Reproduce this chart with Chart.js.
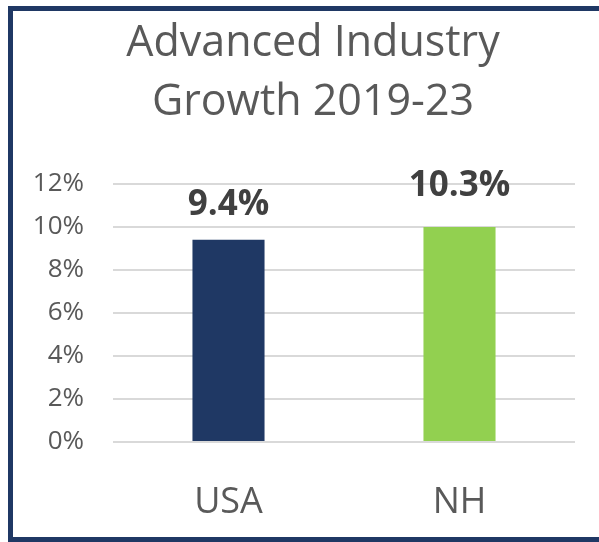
<!DOCTYPE html>
<html>
<head>
<meta charset="utf-8">
<script src="https://cdn.jsdelivr.net/npm/chart.js@4"></script>
<style>
  html, body { margin: 0; background: #fff; }
  #page { position: relative; width: 599px; height: 542px; overflow: hidden; }
  #frame {
    position: absolute; left: 8px; top: 6px; width: 700px; height: 536px;
    border: 5px solid #1f3864; box-sizing: border-box;
  }
  #box { position: absolute; left: 0; top: 0; width: 599px; height: 542px; }
</style>
</head>
<body>
<div id="page">
  <div id="frame"></div>
  <div id="box"><canvas id="chart-area"></canvas></div>
</div>
<script>
var categories = ["USA", "NH"];
var growth = [9.4, 10.0];          // bar heights as drawn
var labelValues = [9.4, 10.3];     // printed labels
var barColors = ["#1f3864", "#92d050"];
var yTicks = [0, 2, 4, 6, 8, 10, 12];

const FONT = "'Open Sans', sans-serif";

// bold value labels over the bars
const valueLabels = {
  id: "valueLabels",
  afterLayout(chart) {
    // let the % labels run left of the axis box (title stays centred)
    chart.scales.y.left = 0;
  },
  afterDatasetsDraw(chart) {
    const ctx = chart.ctx;
    const meta = chart.getDatasetMeta(0);
    const y = chart.scales.y;
    ctx.save();
    ctx.font = "bold 35px " + FONT;
    ctx.fillStyle = "#404040";
    ctx.textAlign = "center";
    ctx.textBaseline = "alphabetic";
    meta.data.forEach(function(bar, i) {
      ctx.fillText(labelValues[i].toFixed(1) + "%", bar.x, y.getPixelForValue(labelValues[i]) - 25);
    });
    ctx.restore();
  }
};

var config = {
  type: "bar",
  data: {
    labels: categories,
    datasets: [{
      data: growth,
      backgroundColor: barColors,
      barPercentage: 0.312,
      categoryPercentage: 1
    }]
  },
  options: {
    responsive: true,
    maintainAspectRatio: false,
    animation: false,
    layout: { padding: { top: 15, left: 51, right: 24, bottom: 0 } },
    plugins: {
      legend: { display: false },
      tooltip: { enabled: false },
      title: {
        display: true,
        text: ["Advanced Industry", "Growth 2019-23"],
        color: "#595959",
        font: { family: FONT, size: 43, weight: "normal", lineHeight: 1.36 },
        padding: { top: 0, bottom: 52 }
      }
    },
    scales: {
      x: {
        afterFit: function(scale) { scale.height = 100; },
        grid: { display: false },
        border: { display: false },
        ticks: { color: "#595959", font: { family: FONT, size: 36 }, padding: 31 }
      },
      y: {
        min: 0,
        max: 12,
        afterFit: function(scale) { scale.width = 62; },
        afterBuildTicks: function(scale) {
          scale.ticks = yTicks.map(function(v) { return { value: v }; });
        },
        grid: { color: "#d9d9d9", lineWidth: 2, drawTicks: false },
        border: { display: false },
        ticks: {
          color: "#595959",
          font: { family: FONT, size: 26 },
          padding: 29,
          callback: function(v) { return v + "%"; }
        }
      }
    }
  },
  plugins: [valueLabels]
};

var ctx = document.getElementById("chart-area").getContext("2d");
var myChart = new Chart(ctx, config);
</script>
</body>
</html>
